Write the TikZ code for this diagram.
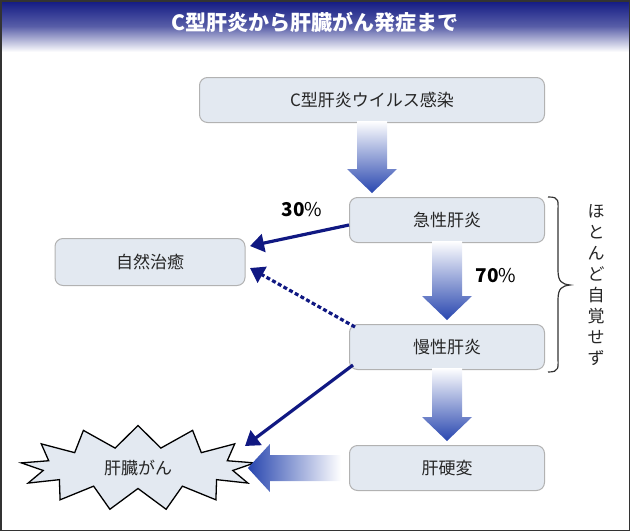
\documentclass[tikz,border=0pt]{standalone}
\usepackage{fontspec}
\setmainfont{Noto Sans CJK JP}
\usetikzlibrary{shapes.symbols,calc,arrows.meta}
\definecolor{navy}{RGB}{16,24,130}
\definecolor{boxfill}{RGB}{227,233,241}
\definecolor{arrowblue}{RGB}{40,70,175}
\tikzset{
  stagebox/.style = {draw=gray!60, fill=boxfill, rounded corners=8pt, line width=1pt,
    minimum width=195pt, minimum height=45pt, font=\fontsize{17}{17}\selectfont, text=black!85},
  flowline/.style = {draw=navy, line width=3.2pt, -{Triangle[length=14pt,width=18pt]}},
}
\newcommand{\blockdown}[2]{%
  \shade[top color=white, bottom color=arrowblue]
    let \p1=($(#1.south)+(0,-2)$), \p2=($(#2.north)+(0,-4)$) in
    (\x1-15,\y1) -- (\x1+15,\y1) -- (\x1+15,\y2+24) -- (\x1+25,\y2+24) --
    (\x1,\y2) -- (\x1-25,\y2+24) -- (\x1-15,\y2+24) -- cycle;}
\begin{document}
\begin{tikzpicture}[x=1pt,y=-1pt]
  \useasboundingbox (0,0) rectangle (630,531);
  % title bar
  \shade[top color=navy, bottom color=white, middle color=navy!70] (0,0) rectangle (630,52);
  \node[text=white, font=\bfseries\fontsize{21}{21}\selectfont] (title) at (315,22) {C型肝炎から肝臓がん発症まで};
  \draw[black!80, line width=1.5pt] (0.75,0.75) rectangle (629.25,530.25);

  % stages
  \node[stagebox, minimum width=345pt] (infect) at (372,100) {C型肝炎ウイルス感染};
  \node[stagebox] (acute) at (447,220) {急性肝炎};
  \node[stagebox] (chronic) at (447,347) {慢性肝炎};
  \node[stagebox] (cirr) at (447,468) {肝硬変};
  \node[stagebox, minimum width=190pt, minimum height=47pt] (heal) at (150,262) {自然治癒};
  \node[starburst, starburst points=13, random starburst=0, starburst point height=22pt,
        draw=black, line width=1.3pt, fill=boxfill, minimum width=235pt, minimum height=85pt,
        font=\fontsize{17}{17}\selectfont, text=black!85] (cancer) at (138,468) {肝臓がん};

  % block arrows
  \blockdown{infect}{acute}
  \blockdown{acute}{chronic}
  \blockdown{chronic}{cirr}
  \shade[left color=arrowblue, right color=white]
    let \p1=($(cirr.west)+(-8,0)$), \p2=($(cancer.east)+(6,0)$) in
    (\x1,\y1-13) -- (\x1,\y1+13) -- (\x2+22,\y1+13) -- (\x2+22,\y1+24) --
    (\x2,\y1) -- (\x2+22,\y1-24) -- (\x2+22,\y1-13) -- cycle;

  % thin arrows
  \coordinate (healA) at (250,246);
  \coordinate (healB) at (250,268);
  \coordinate (cancerA) at (245,446);
  \draw[flowline] ($(acute.west)+(0,5)$) -- (healA);
  \draw[flowline, dash pattern=on 4pt off 2.5pt] ($(chronic.north west)+(6,3)$) -- (healB);
  \draw[flowline] ($(chronic.south west)+(4,-5)$) -- (cancerA);

  % percentages
  \node[font=\fontsize{19}{19}\selectfont] (p30) at (302,210) {\textbf{30}\%};
  \node[font=\fontsize{19}{19}\selectfont] (p70) at (496,276) {\textbf{70}\%};

  % brace and note
  \draw[black!80, line width=1.2pt] (548,197) .. controls (560,197) and (558,200) .. (558,215)
    -- (558,270) .. controls (558,282) and (562,284) .. (570,285)
    .. controls (562,286) and (558,288) .. (558,300) -- (558,355)
    .. controls (558,368) and (560,372) .. (548,372);
  \node[font=\fontsize{17}{21}\selectfont, align=center, text=black!85] (note) at (596,285)
    {ほ\\と\\ん\\ど\\自\\覚\\せ\\ず};
\end{tikzpicture}
\end{document}
